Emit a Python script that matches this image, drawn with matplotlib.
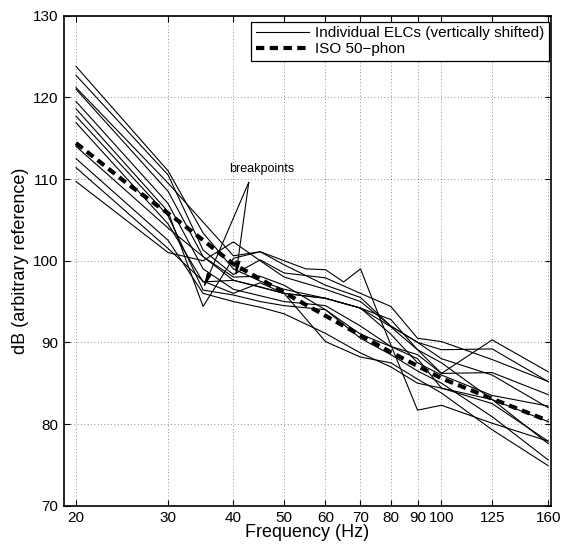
import matplotlib
matplotlib.use("Agg")
import matplotlib.pyplot as plt
from matplotlib.ticker import FixedLocator, NullLocator, FixedFormatter

plt.rcParams['font.family'] = ['Liberation Sans', 'DejaVu Sans']

# ISO 50-phon curve
iso_freq = [20, 25, 31.5, 40, 50, 63, 80, 100, 125, 160]
iso_db = [114.4, 109.5, 104.8, 99.6, 96.1, 92.5, 88.8, 85.6, 83.1, 80.4]

# Individual ELCs (vertically shifted)
elc_freqs = [
    [20, 30, 35, 40, 45, 50, 60, 70, 80, 90, 100, 125, 160],
    [20, 30, 35, 40, 45, 50, 60, 70, 80, 90, 100, 125, 160],
    [20, 30, 40, 45, 50, 55, 60, 65, 70, 76, 90, 100, 125, 160],
    [20, 30, 35, 40, 50, 60, 70, 80, 90, 100, 125, 160],
    [20, 30, 35, 40, 45, 50, 60, 70, 80, 90, 100, 125, 160],
    [20, 30, 35, 40, 45, 50, 60, 70, 80, 90, 100, 125, 160],
    [20, 30, 35, 40, 45, 50, 60, 70, 80, 90, 100, 125, 160],
    [20, 30, 35, 40, 45, 50, 60, 70, 80, 90, 100, 125, 160],
    [20, 30, 35, 40, 45, 50, 60, 70, 80, 90, 100, 125, 160],
    [20, 30, 35, 40, 45, 50, 60, 70, 80, 90, 100, 125, 160],
    [20, 30, 35, 40, 45, 50, 60, 70, 80, 90, 100, 125, 160],
    [20, 30, 35, 40, 50, 60, 70, 80, 90, 100, 125, 160],
]
elc_dbs = [
    [123.8, 111.0, 103.4, 99.0, 97.5, 96.5, 95.4, 94.2, 92.8, 89.1, 87.5, 83.0, 77.6],
    [122.7, 110.5, 101.3, 98.3, 100.1, 98.5, 97.9, 96.0, 94.4, 90.5, 90.1, 87.9, 85.2],
    [121.2, 109.5, 100.6, 101.1, 100.0, 99.0, 98.9, 97.4, 99.0, 93.2, 81.7, 82.3, 80.1, 77.9],
    [121.0, 108.5, 100.5, 97.6, 96.0, 95.4, 94.2, 91.9, 89.1, 86.2, 86.3, 83.6],
    [118.6, 106.0, 94.4, 100.3, 101.1, 99.5, 97.0, 95.5, 92.0, 90.0, 89.1, 89.2, 85.2],
    [117.7, 105.5, 96.4, 95.8, 95.0, 94.5, 94.0, 91.0, 89.5, 88.5, 86.2, 90.3, 86.4],
    [116.9, 104.5, 97.4, 97.6, 96.8, 96.0, 95.4, 94.2, 91.0, 87.5, 86.0, 83.5, 82.2],
    [114.0, 104.0, 100.5, 98.0, 98.1, 97.0, 94.0, 90.5, 88.5, 86.5, 85.0, 80.9, 75.6],
    [112.5, 102.5, 96.0, 95.0, 94.3, 93.5, 91.1, 88.7, 87.0, 85.0, 84.4, 83.0, 80.3],
    [111.4, 101.5, 97.5, 96.0, 97.3, 96.0, 90.1, 88.2, 87.5, 85.5, 83.8, 79.3, 74.9],
    [109.7, 101.0, 100.0, 102.3, 100.0, 98.0, 96.5, 95.0, 92.0, 90.0, 88.0, 86.0, 82.0],
    [119.5, 107.0, 99.0, 96.5, 95.0, 94.5, 92.0, 89.5, 88.0, 84.4, 82.5, 77.9],
]

xticks = [20, 30, 40, 50, 60, 70, 80, 90, 100, 125, 160]
xticklabels = ['20', '30', '40', '50', '60', '70', '80', '90', '100', '125', '160']
yticks = [70, 80, 90, 100, 110, 120, 130]

# breakpoints annotation: text position, arrow origin and targets (freq, dB)
bp_text = (45.4, 111.2)
bp_origin = (42.8, 109.6)
bp_targets = [(35.0, 96.6), (40.4, 98.0)]

fig = plt.figure(figsize=(5.63, 5.44), dpi=100)
ax = fig.add_axes([0.1137, 0.0704, 0.865, 0.9007])

for i, (f, d) in enumerate(zip(elc_freqs, elc_dbs)):
    ax.plot(f, d, color='black', lw=0.8,
            label='Individual ELCs (vertically shifted)' if i == 0 else None)
ax.plot(iso_freq, iso_db, color='black', lw=3, dashes=(2.0, 1.3),
        label='ISO 50\u2212phon')

ax.set_xscale('log')
ax.set_xlim(18.97, 162)
ax.set_ylim(70, 130)
ax.xaxis.set_major_locator(FixedLocator(xticks))
ax.xaxis.set_major_formatter(FixedFormatter(xticklabels))
ax.xaxis.set_minor_locator(NullLocator())
ax.set_yticks(yticks)

ax.grid(True, which='major', linestyle=(0, (1, 3)), color='black', lw=0.6, alpha=0.6)
ax.tick_params(direction='in', top=True, right=True, length=4, width=0.8, labelsize=11, pad=4)
for s in ax.spines.values():
    s.set_linewidth(1.2)

ax.set_xlabel('Frequency (Hz)', fontsize=13, labelpad=-1)
ax.set_ylabel('dB (arbitrary reference)', fontsize=13, labelpad=3)

ax.text(bp_text[0], bp_text[1], 'breakpoints', fontsize=9, ha='center', va='center')
for tx, ty in bp_targets:
    ax.annotate('', xy=(tx, ty), xytext=bp_origin,
                arrowprops=dict(arrowstyle='-|>,head_length=0.9,head_width=0.15',
                                color='black', lw=0.8, shrinkA=0, shrinkB=0))

leg = ax.legend(loc='upper right', bbox_to_anchor=(0.996, 0.988), borderaxespad=0,
                fontsize=11, fancybox=False, edgecolor='black', framealpha=1,
                handlelength=3.5, handletextpad=0.4, borderpad=0.3, labelspacing=0.15)
leg.get_frame().set_linewidth(0.9)

fig.savefig('out.png', dpi=100)
